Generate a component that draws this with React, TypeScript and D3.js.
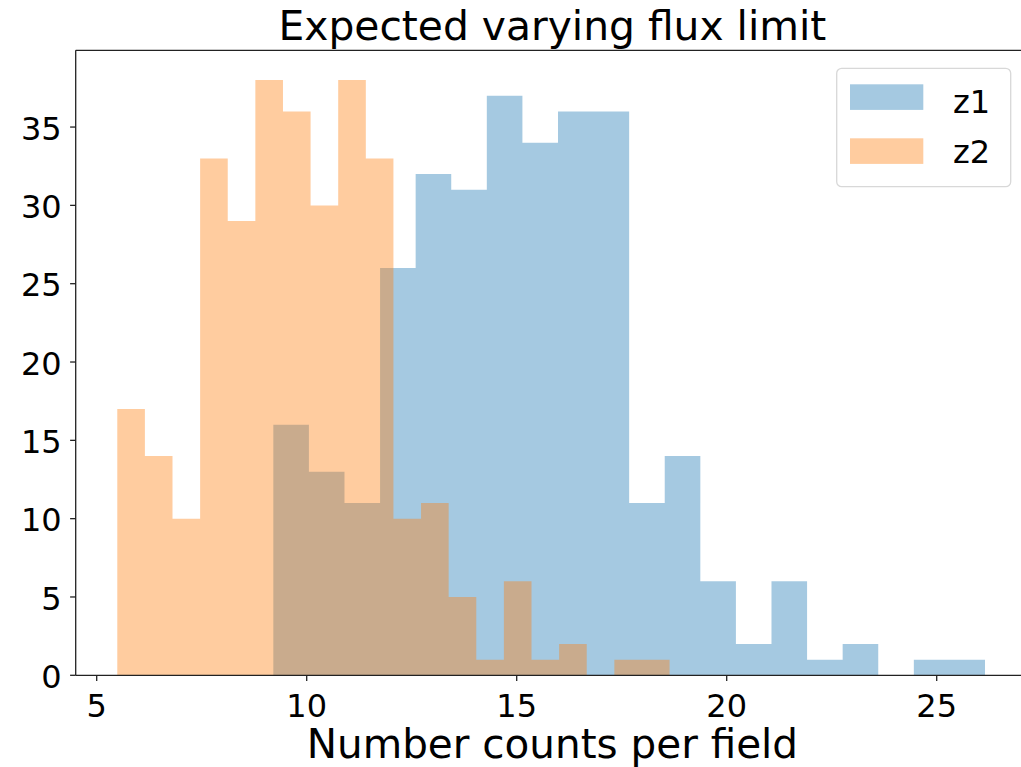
import React from "react";
import * as d3 from "d3";

// Histogram counts
const z1Counts = [16, 13, 11, 26, 32, 31, 37, 34, 36, 36, 11, 14, 6, 2, 6, 1, 2, 0, 1, 1];
const z2Counts = [17, 14, 10, 33, 29, 38, 36, 30, 38, 33, 10, 11, 5, 1, 6, 1, 2, 0, 1, 1];
const z1Range: [number, number] = [9.205, 26.15];
const z2Range: [number, number] = [5.49, 18.64];
const xTicks = [5, 10, 15, 20, 25];
const yTicks = [0, 5, 10, 15, 20, 25, 30, 35];
const seriesNames = ["z1", "z2"];
const seriesColors = ["#1f77b4", "#ff7f0e"];

const W = 1021;
const H = 767;
const left = 75.7;
const top = 50.3;
const bottom = 675.3;
const right = 1029.1;
const font = "'DejaVu Sans', sans-serif";

function binsOf(counts: number[], range: [number, number]) {
  const w = (range[1] - range[0]) / counts.length;
  return counts.map((c, i) => ({ x0: range[0] + i * w, x1: range[0] + (i + 1) * w, c }));
}

export default function App() {
  const x = d3.scaleLinear().domain([4.5, 27.2]).range([left, right]);
  const y = d3.scaleLinear().domain([0, 39.9]).range([bottom, top]);
  const series = [binsOf(z1Counts, z1Range), binsOf(z2Counts, z2Range)];
  const midX = (left + right) / 2;

  const pathOf = (bins: { x0: number; x1: number; c: number }[]) => {
    const p = d3.path();
    bins
      .filter((b) => b.c > 0)
      .forEach((b) => {
        p.rect(x(b.x0), y(b.c), x(b.x1) - x(b.x0), y(0) - y(b.c));
      });
    return p.toString();
  };

  return (
    <svg
      width={W}
      height={H}
      style={{ position: "absolute", left: 0, top: 0, background: "#fff" }}
      fontFamily={font}
    >
      <rect x={0} y={0} width={W} height={H} fill="#fff" />
      {series.map((bins, si) => (
        <path key={si} d={pathOf(bins)} fill={seriesColors[si]} fillOpacity={0.4} />
      ))}
      {/* spines */}
      <g stroke="#222" strokeWidth={1.3} fill="none">
        <line x1={left} y1={top} x2={left} y2={bottom} />
        <line x1={left} y1={bottom} x2={right} y2={bottom} />
        <line x1={left} y1={top} x2={right} y2={top} />
        <line x1={right} y1={top} x2={right} y2={bottom} />
      </g>
      {/* y ticks */}
      {yTicks.map((t) => (
        <g key={"y" + t}>
          <line x1={left - 5.6} x2={left} y1={y(t)} y2={y(t)} stroke="#222" strokeWidth={1.3} />
          <text x={left - 14} y={y(t) + 12.6} textAnchor="end" fontSize={32} fill="#000">
            {t}
          </text>
        </g>
      ))}
      {/* x ticks */}
      {xTicks.map((t) => (
        <g key={"x" + t}>
          <line x1={x(t)} x2={x(t)} y1={bottom} y2={bottom + 5.6} stroke="#222" strokeWidth={1.3} />
          <text x={x(t)} y={717.3} textAnchor="middle" fontSize={32} fill="#000">
            {t}
          </text>
        </g>
      ))}
      <text x={midX} y={40} textAnchor="middle" fontSize={40.8} fill="#000">
        Expected varying flux limit
      </text>
      <text x={midX} y={758} textAnchor="middle" fontSize={40.5} fill="#000">
        Number counts per field
      </text>
      {/* legend */}
      <g>
        <rect
          x={836.7}
          y={68.3}
          width={174}
          height={118.4}
          rx={5}
          fill="#fff"
          fillOpacity={0.8}
          stroke="#d8d8d8"
          strokeWidth={1.3}
        />
        {seriesNames.map((n, i) => (
          <g key={n}>
            <rect
              x={850}
              y={84.3 + i * 54}
              width={73.3}
              height={25.6}
              fill={seriesColors[i]}
              fillOpacity={0.4}
            />
            <text x={953} y={113.3 + i * 50} fontSize={32} fill="#000">
              {n}
            </text>
          </g>
        ))}
      </g>
    </svg>
  );
}
